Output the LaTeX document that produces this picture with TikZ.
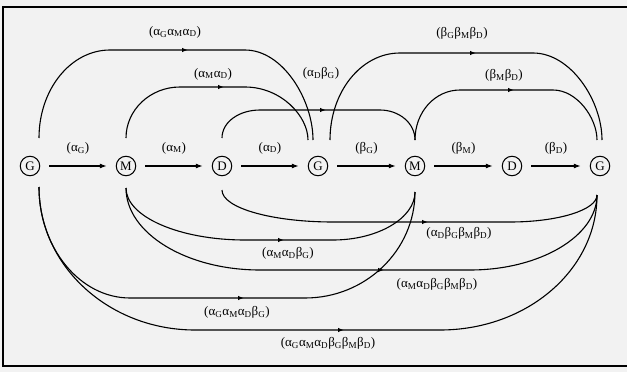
\documentclass[tikz,border=0pt]{standalone}
\usepackage{fontspec}
\setmainfont{Liberation Serif}
\usetikzlibrary{arrows.meta,calc}

% greek letter with a subscript stage letter
\newcommand\alf[1]{α\textsubscript{#1}}
\newcommand\bet[1]{β\textsubscript{#1}}

\begin{document}
\begin{tikzpicture}[x=1pt,y=-1pt,
  state/.style={circle,draw,line width=1pt,inner sep=0pt,minimum size=19.5pt,
    font=\fontsize{13}{13}\selectfont},
  stepline/.style={line width=1.1pt,-{Latex[length=7pt,width=5pt]},
    shorten <=9pt,shorten >=9pt},
  flow/.style={line width=1.1pt},
  tip/.style={line width=1.1pt,-{Latex[length=6pt,width=4.5pt]}},
  lab/.style={inner sep=0pt,font=\fontsize{13}{13}\selectfont},
  toplab/.style={lab,midway,yshift=18pt}]

\useasboundingbox (0,0) rectangle (627,372);
\fill[black!5] (0,0) rectangle (627,372);
\draw[line width=2.3pt] (627,7) -- (3,7) -- (3,366) -- (627,366);

% the chain of stages
\node[state] (G1) at (30,166)  {G};
\node[state] (M1) at (126,166) {M};
\node[state] (D1) at (222,166) {D};
\node[state] (G2) at (318,166) {G};
\node[state] (M2) at (415,166) {M};
\node[state] (D2) at (512,166) {D};
\node[state] (G3) at (600,166) {G};

\draw[stepline] (G1) -- node[toplab] (lg)  {(\alf{G})} (M1);
\draw[stepline] (M1) -- node[toplab] (lm)  {(\alf{M})} (D1);
\draw[stepline] (D1) -- node[toplab] (ld)  {(\alf{D})} (G2);
\draw[stepline] (G2) -- node[toplab] (lbg) {(\bet{G})} (M2);
\draw[stepline] (M2) -- node[toplab] (lbm) {(\bet{M})} (D2);
\draw[stepline] (D2) -- node[toplab] (lbd) {(\bet{D})} (G3);

% arcs above the chain
\draw[flow] ($(G1)+(9,-28)$) .. controls (39,89) and (71,50) .. (110,50)
  -- (245,50) .. controls (283,50) and (313,100) .. ($(G2)+(-5,-26)$);
\draw[tip] (183,50) -- (188,50);
\node[lab] (u1) at (175,32) {(\alf{G}\alf{M}\alf{D})};

\draw[flow] ($(M1)+(0,-28)$) .. controls (126,110) and (150,87) .. (180,87)
  -- (245,87) .. controls (281,87) and (308,116) .. ($(G2)+(-10,-26)$);
\draw[tip] (219,87) -- (224,87);
\node[lab] (u2) at (213,74) {(\alf{M}\alf{D})};

\draw[flow] ($(D1)+(0,-28)$) .. controls (222,122) and (239,110) .. (260,110)
  -- (380,110) .. controls (399,110) and (415,123) .. ($(M2)+(0,-26)$);
\draw[tip] (321,110) -- (326,110);
\node[lab] (u3) at (321,73) {(\alf{D}\bet{G})};

\draw[flow] ($(G2)+(12,-26)$) .. controls (330,92) and (361,53) .. (400,53)
  -- (533,53) .. controls (571,53) and (602,101) .. ($(G3)+(2,-26)$);
\draw[tip] (471,53) -- (476,53);
\node[lab] (u4) at (462,33) {(\bet{G}\bet{M}\bet{D})};

\draw[flow] ($(M2)+(0,-26)$) .. controls (415,112) and (435,90) .. (460,90)
  -- (553,90) .. controls (577,90) and (597,118) .. ($(G3)+(-3,-26)$);
\draw[tip] (509,90) -- (514,90);
\node[lab] (u5) at (504,75) {(\bet{M}\bet{D})};

% arcs below the chain
\draw[flow] ($(D1)+(0,24)$) .. controls (222,208) and (272,222) .. (333,222)
  -- (510,222) .. controls (558,222) and (597,210) .. ($(G3)+(-3,29)$);
\draw[tip] (423,222) -- (428,222);
\node[lab] (l5) at (459,233) {(\alf{D}\bet{G}\bet{M}\bet{D})};

\draw[flow] ($(M1)+(0,22)$) .. controls (126,217) and (180,240) .. (245,240)
  -- (333,240) .. controls (378,240) and (415,218) .. ($(M2)+(0,26)$);
\draw[tip] (279,240) -- (284,240);
\node[lab] (l3) at (288,253) {(\alf{M}\alf{D}\bet{G})};

\draw[flow] ($(M1)+(0,22)$) .. controls (126,233) and (186,270) .. (260,270)
  -- (470,270) .. controls (540,270) and (597,236) .. ($(G3)+(-3,29)$);
\draw[tip] (379,270) -- (384,270);
\node[lab] (l4) at (437,284) {(\alf{M}\alf{D}\bet{G}\bet{M}\bet{D})};

\draw[flow] ($(G1)+(9,21)$) .. controls (39,248) and (80,298) .. (130,298)
  -- (305,298) .. controls (366,298) and (415,250) .. ($(M2)+(0,26)$);
\draw[tip] (239,298) -- (244,298);
\node[lab] (l1) at (237,312) {(\alf{G}\alf{M}\alf{D}\bet{G})};

\draw[flow] ($(G1)+(9,21)$) .. controls (39,266) and (109,330) .. (195,330)
  -- (440,330) .. controls (527,330) and (597,270) .. ($(G3)+(-3,29)$);
\draw[tip] (339,330) -- (344,330);
\node[lab] (l2) at (328,343) {(\alf{G}\alf{M}\alf{D}\bet{G}\bet{M}\bet{D})};

\end{tikzpicture}
\end{document}
